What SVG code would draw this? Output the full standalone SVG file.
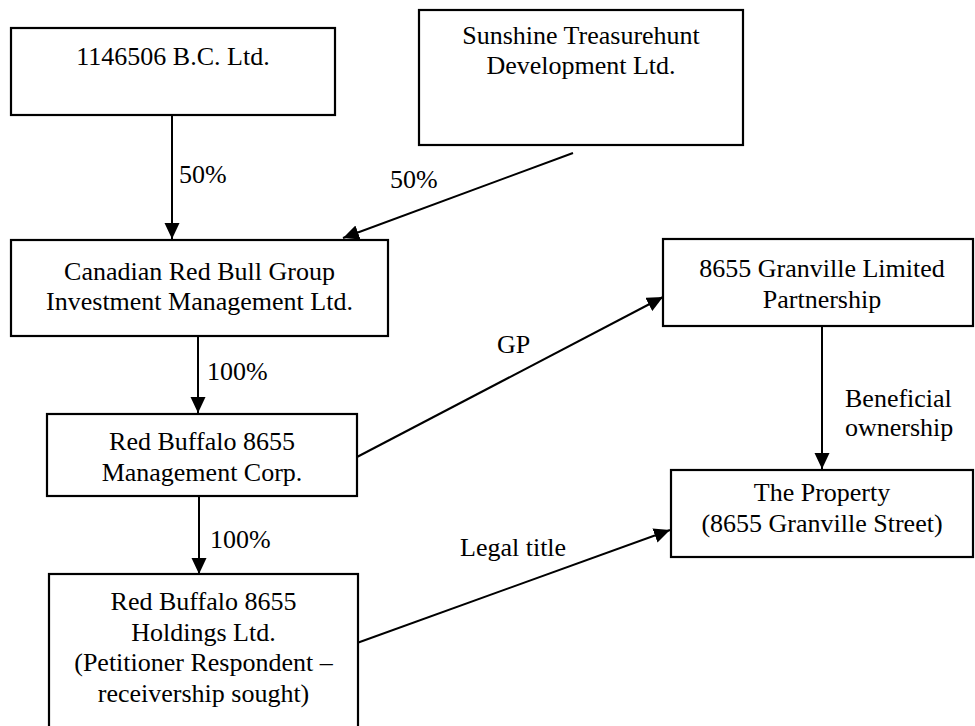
<svg xmlns="http://www.w3.org/2000/svg" width="975" height="726" viewBox="0 0 975 726">
<style>
.box{fill:#fff;stroke:#000;stroke-width:2.2}
.t{font-family:"Liberation Serif","Times New Roman",serif;font-size:26px;fill:#000}
.c{text-anchor:middle}
.ln{stroke:#000;stroke-width:2;fill:none;marker-end:url(#ah)}
</style>
<defs>
<marker id="ah" markerUnits="userSpaceOnUse" markerWidth="17" markerHeight="16" refX="16" refY="7.5" orient="auto">
<path d="M0,0 L16,7.5 L0,15 z" fill="#000"/>
</marker>
</defs>
<rect width="975" height="726" fill="#fff"/>
<g id="connectors">
<line class="ln" x1="172" y1="116" x2="172" y2="239"/>
<line class="ln" x1="573" y1="153" x2="343" y2="238"/>
<line class="ln" x1="198" y1="337" x2="198" y2="413"/>
<line class="ln" x1="199" y1="496" x2="199" y2="574"/>
<line class="ln" x1="357" y1="457" x2="663" y2="297"/>
<line class="ln" x1="357" y1="643" x2="670" y2="530"/>
<line class="ln" x1="822" y1="327" x2="822" y2="469"/>
<text class="t" x="179" y="183">50%</text>
<text class="t" x="390" y="188">50%</text>
<text class="t" x="207" y="380">100%</text>
<text class="t" x="210" y="548">100%</text>
<text class="t" x="497" y="353">GP</text>
<text class="t" x="460" y="556">Legal title</text>
<text class="t" x="845" y="407">Beneficial</text>
<text class="t" x="845" y="436">ownership</text>
</g>
<g id="n1">
<rect class="box" x="11" y="28" width="324" height="87"/>
<text class="t c" x="173" y="65">1146506 B.C. Ltd.</text>
</g>
<g id="n2">
<rect class="box" x="419" y="10" width="324" height="135"/>
<text class="t c" x="581" y="44">Sunshine Treasurehunt</text>
<text class="t c" x="581" y="74">Development Ltd.</text>
</g>
<g id="n3">
<rect class="box" x="11" y="240" width="377" height="96"/>
<text class="t c" x="199.5" y="280">Canadian Red Bull Group</text>
<text class="t c" x="199.5" y="310">Investment Management Ltd.</text>
</g>
<g id="n4">
<rect class="box" x="47" y="414" width="310" height="82"/>
<text class="t c" x="202" y="450">Red Buffalo 8655</text>
<text class="t c" x="202" y="481">Management Corp.</text>
</g>
<g id="n5">
<rect class="box" x="49" y="574" width="309" height="170"/>
<text class="t c" x="203.5" y="610">Red Buffalo 8655</text>
<text class="t c" x="203.5" y="641">Holdings Ltd.</text>
<text class="t c" x="203.5" y="671">(Petitioner Respondent –</text>
<text class="t c" x="203.5" y="702">receivership sought)</text>
</g>
<g id="n6">
<rect class="box" x="663" y="239" width="310" height="87"/>
<text class="t c" x="822" y="277">8655 Granville Limited</text>
<text class="t c" x="822" y="308">Partnership</text>
</g>
<g id="n7">
<rect class="box" x="671" y="470" width="302" height="87"/>
<text class="t c" x="822" y="501">The Property</text>
<text class="t c" x="822" y="532">(8655 Granville Street)</text>
</g>
</svg>
